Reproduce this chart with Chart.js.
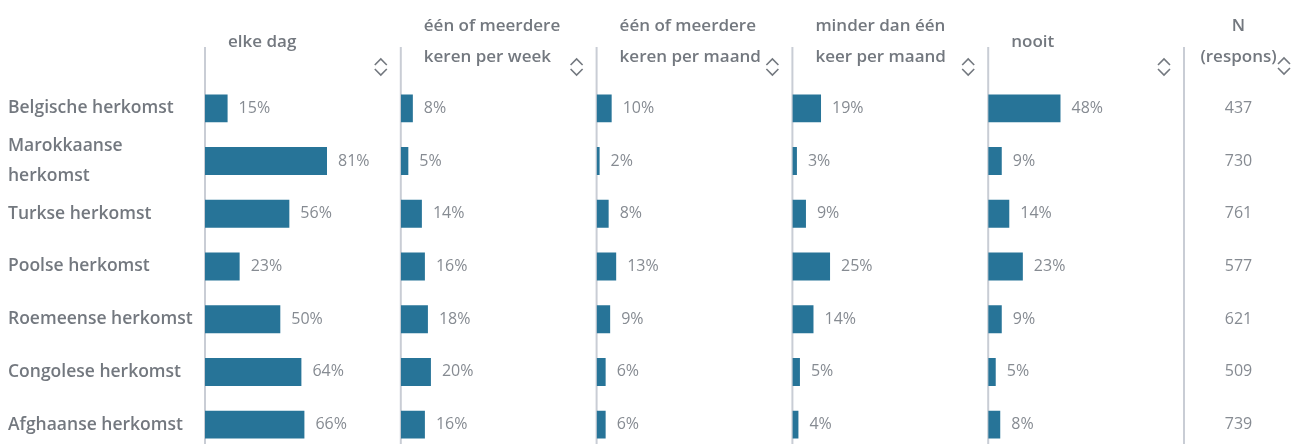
<!DOCTYPE html>
<html><head><meta charset="utf-8">
<script src="https://cdn.jsdelivr.net/npm/chart.js@4"></script>
<style>
html,body{margin:0;padding:0;background:#fff;overflow:hidden;}
#clip{width:1293px;height:444px;overflow:hidden;position:relative;}
#wrap{width:1293px;height:452px;position:relative;}
</style></head><body>
<div id="clip"><div id="wrap"><canvas id="c"></canvas></div></div>
<script>
// ---- data ----
const categories = ['Belgische herkomst', ['Marokkaanse', 'herkomst'], 'Turkse herkomst', 'Poolse herkomst', 'Roemeense herkomst', 'Congolese herkomst', 'Afghaanse herkomst'];
const seriesNames = [['elke dag'], ['één of meerdere', 'keren per week'], ['één of meerdere', 'keren per maand'], ['minder dan één', 'keer per maand'], ['nooit']];
const elkeDag = [15, 81, 56, 23, 50, 64, 66];
const perWeek = [8, 5, 14, 16, 18, 20, 16];
const perMaand = [10, 2, 8, 13, 9, 6, 6];
const minderDanMaand = [19, 3, 9, 25, 14, 5, 4];
const nooit = [48, 9, 14, 23, 9, 5, 8];
const nHeader = ['N', '(respons)'];
const nRespons = [437, 730, 761, 577, 621, 509, 739];
const seriesValues = [elkeDag, perWeek, perMaand, minderDanMaand, nooit];

// ---- styles ----
const FONT = '"Open Sans", "Noto Sans", sans-serif';
const BAR = '#277498';
const LABEL = '#73787f';
const VALUE = '#868b92';
const LINE = '#c9cdd5';

const scales = {
  y: {
    type: 'category', position: 'left',
    grid: { display: false }, border: { display: false },
    ticks: { autoSkip: false, crossAlign: 'far', padding: 0, color: LABEL,
             font: { family: FONT, size: 17.5, weight: '600', lineHeight: 1.7 } },
    afterFit(s) { s.width = 197; s.paddingTop = 0; s.paddingBottom = 0; }
  }
};
// stacked top axes are laid out in reverse creation order, so create them last-to-first
for (let i = seriesValues.length - 1; i >= 0; i--) {
  scales['x' + i] = { type: 'linear', position: 'top', stack: 'cols', stackWeight: 1, min: 0, max: 130, display: false };
}

function chevrons(ctx, cx, top) {
  ctx.beginPath();
  ctx.moveTo(cx - 6, top + 7); ctx.lineTo(cx, top + 1); ctx.lineTo(cx + 6, top + 7);
  ctx.moveTo(cx - 6, top + 11); ctx.lineTo(cx, top + 17); ctx.lineTo(cx + 6, top + 11);
  ctx.stroke();
}

function columnLefts(chart) {
  const lefts = seriesValues.map((v, i) => chart.scales['x' + i].left);
  lefts.push(chart.chartArea.right);
  return lefts;
}

const overlay = {
  id: 'overlay',
  beforeDatasetsDraw(chart) {
    const ctx = chart.ctx;
    ctx.save();
    ctx.strokeStyle = LINE; ctx.lineWidth = 2;
    columnLefts(chart).forEach(x => { ctx.beginPath(); ctx.moveTo(x, 47); ctx.lineTo(x, chart.height); ctx.stroke(); });
    ctx.restore();
  },
  afterDatasetsDraw(chart) {
    const ctx = chart.ctx, area = chart.chartArea, yS = chart.scales.y;
    const lefts = columnLefts(chart);
    ctx.save();
    ctx.textBaseline = 'middle';
    // value labels
    ctx.font = '400 16px ' + FONT; ctx.fillStyle = VALUE; ctx.textAlign = 'left';
    chart.data.datasets.forEach((ds, di) => {
      chart.getDatasetMeta(di).data.forEach((bar, i) => {
        ctx.fillText(ds.data[i] + '%', bar.x + 11, bar.y);
      });
    });
    // N column
    const nx = (area.right + chart.width) / 2;
    ctx.textAlign = 'center';
    nRespons.forEach((n, i) => ctx.fillText(String(n), nx, yS.getPixelForValue(i)));
    // headers
    ctx.font = '600 17px ' + FONT; ctx.fillStyle = LABEL; ctx.textAlign = 'left';
    ctx.strokeStyle = LABEL; ctx.lineWidth = 1.6;
    seriesNames.forEach((lines, i) => {
      const x = lefts[i] + 23;
      const ys = lines.length === 1 ? [42] : [26, 57];
      lines.forEach((t, j) => ctx.fillText(t, x, ys[j]));
      chevrons(ctx, lefts[i + 1] - 20, 58);
    });
    ctx.textAlign = 'center';
    ctx.fillText(nHeader[0], nx, 26);
    ctx.fillText(nHeader[1], nx, 57);
    chevrons(ctx, chart.width - 9, 57);
    ctx.restore();
  }
};

new Chart(document.getElementById('c'), {
  type: 'bar',
  data: {
    labels: categories,
    datasets: seriesValues.map((vals, i) => ({
      label: seriesNames[i].join(' '), data: vals, xAxisID: 'x' + i, yAxisID: 'y',
      backgroundColor: BAR, barPercentage: 0.53, categoryPercentage: 1, grouped: false
    }))
  },
  options: {
    indexAxis: 'y', responsive: true, maintainAspectRatio: false, animation: false,
    layout: { padding: { left: 8, right: 109, top: 82, bottom: 1 } },
    plugins: { legend: { display: false }, tooltip: { enabled: false } },
    scales
  },
  plugins: [overlay]
});
</script>
</body></html>
